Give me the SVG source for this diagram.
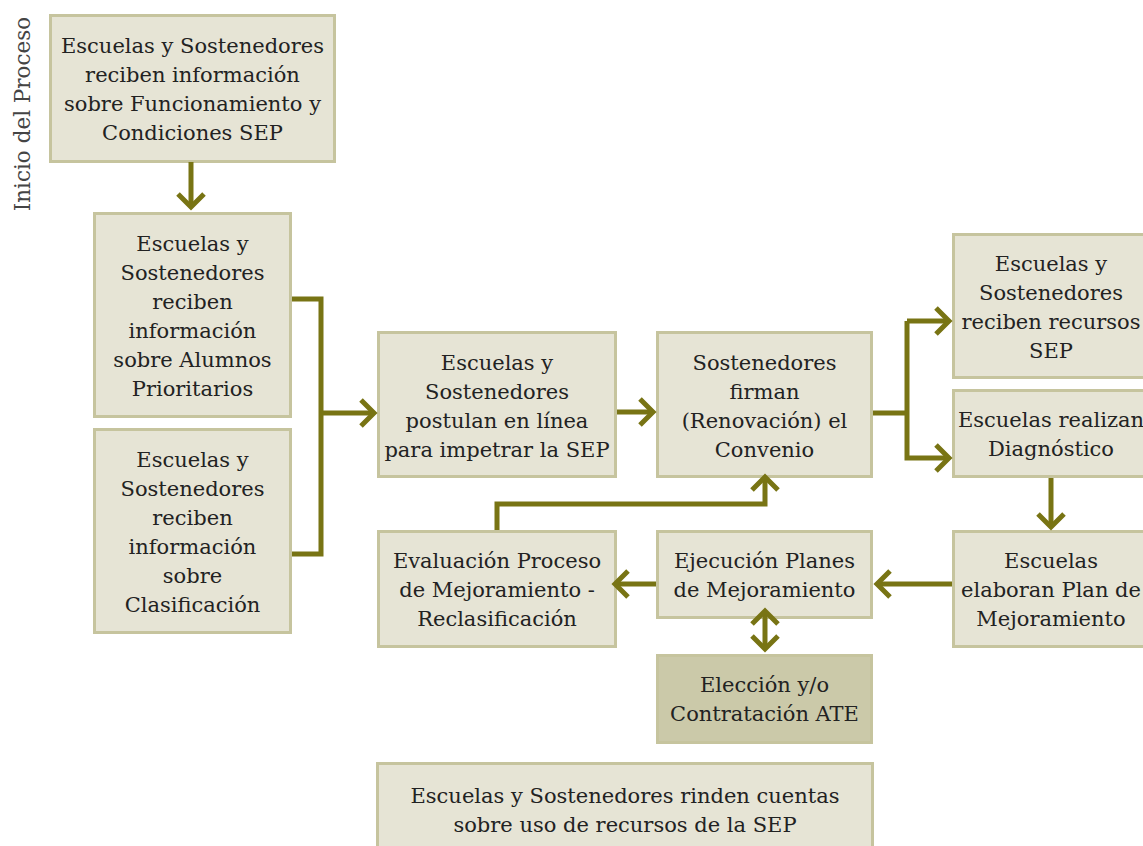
<svg xmlns="http://www.w3.org/2000/svg" width="1143" height="846" viewBox="0 0 1143 846">
<style>
.box{fill:#e6e4d5;stroke:#c6c49e;stroke-width:3}
.dark{fill:#cbc9a9}
.t{font-family:"DejaVu Serif","Liberation Serif",serif;font-size:21px;fill:#222;text-anchor:middle}
.side{font-family:"DejaVu Serif","Liberation Serif",serif;font-size:21.5px;fill:#444;text-anchor:middle}
.c{fill:none;stroke:#787414;stroke-width:5}
.a{marker-end:url(#ah)}
</style>
<defs>
<marker id="ah" markerUnits="userSpaceOnUse" viewBox="-20 -20 26 40" markerWidth="26" markerHeight="40" refX="0" refY="0" orient="auto-start-reverse">
<path d="M-13,-13 L0,0 L-13,13" fill="none" stroke="#787414" stroke-width="5"/>
</marker>
</defs>
<rect width="1143" height="846" fill="#fff"/>
<text class="side" transform="translate(30,114) rotate(-90)">Inicio del Proceso</text>

<g id="n1"><rect class="box" x="50.5" y="15.5" width="284" height="146"/>
<text class="t" x="192.5" y="53">Escuelas y Sostenedores<tspan x="192.5" dy="29">reciben información</tspan><tspan x="192.5" dy="29">sobre Funcionamiento y</tspan><tspan x="192.5" dy="29">Condiciones SEP</tspan></text></g>

<g id="n2"><rect class="box" x="94.5" y="213.5" width="196" height="203"/>
<text class="t" x="192.5" y="251">Escuelas y<tspan x="192.5" dy="29">Sostenedores</tspan><tspan x="192.5" dy="29">reciben</tspan><tspan x="192.5" dy="29">información</tspan><tspan x="192.5" dy="29">sobre Alumnos</tspan><tspan x="192.5" dy="29">Prioritarios</tspan></text></g>

<g id="n3"><rect class="box" x="94.5" y="429.5" width="196" height="203"/>
<text class="t" x="192.5" y="467">Escuelas y<tspan x="192.5" dy="29">Sostenedores</tspan><tspan x="192.5" dy="29">reciben</tspan><tspan x="192.5" dy="29">información</tspan><tspan x="192.5" dy="29">sobre</tspan><tspan x="192.5" dy="29">Clasificación</tspan></text></g>

<g id="n4"><rect class="box" x="378.5" y="332.5" width="237" height="144"/>
<text class="t" x="497" y="370">Escuelas y<tspan x="497" dy="29">Sostenedores</tspan><tspan x="497" dy="29">postulan en línea</tspan><tspan x="497" dy="29">para impetrar la SEP</tspan></text></g>

<g id="n5"><rect class="box" x="657.5" y="332.5" width="214" height="144"/>
<text class="t" x="764.5" y="370">Sostenedores<tspan x="764.5" dy="29">firman</tspan><tspan x="764.5" dy="29">(Renovación) el</tspan><tspan x="764.5" dy="29">Convenio</tspan></text></g>

<g id="n6"><rect class="box" x="953.5" y="234.5" width="200" height="143"/>
<text class="t" x="1051" y="271">Escuelas y<tspan x="1051" dy="29">Sostenedores</tspan><tspan x="1051" dy="29">reciben recursos</tspan><tspan x="1051" dy="29">SEP</tspan></text></g>

<g id="n7"><rect class="box" x="953.5" y="390.5" width="200" height="86"/>
<text class="t" x="1051" y="427">Escuelas realizan<tspan x="1051" dy="29">Diagnóstico</tspan></text></g>

<g id="n8"><rect class="box" x="953.5" y="531.5" width="200" height="115"/>
<text class="t" x="1051" y="568">Escuelas<tspan x="1051" dy="29">elaboran Plan de</tspan><tspan x="1051" dy="29">Mejoramiento</tspan></text></g>

<g id="n9"><rect class="box" x="657.5" y="531.5" width="214" height="86"/>
<text class="t" x="764.5" y="568">Ejecución Planes<tspan x="764.5" dy="29">de Mejoramiento</tspan></text></g>

<g id="n10"><rect class="box" x="378.5" y="531.5" width="237" height="115"/>
<text class="t" x="497" y="568">Evaluación Proceso<tspan x="497" dy="29">de Mejoramiento -</tspan><tspan x="497" dy="29">Reclasificación</tspan></text></g>

<g id="n11"><rect class="box dark" x="657.5" y="655.5" width="214" height="87"/>
<text class="t" x="764.5" y="692">Elección y/o<tspan x="764.5" dy="29">Contratación ATE</tspan></text></g>

<g id="n12"><rect class="box" x="377.5" y="763.5" width="495" height="100"/>
<text class="t" x="625" y="803">Escuelas y Sostenedores rinden cuentas<tspan x="625" dy="29">sobre uso de recursos de la SEP</tspan></text></g>

<g id="connectors">
<path class="c a" d="M191,162 V207"/>
<path class="c" d="M292,299 H321 V554 H292"/>
<path class="c a" d="M321,413 H374"/>
<path class="c a" d="M617,412 H653"/>
<path class="c" d="M873,413 H907"/>
<path class="c a" d="M907,321 V458 H949"/>
<path class="c a" d="M907,321 H949"/>
<path class="c a" d="M1051,478 V527"/>
<path class="c a" d="M952,584 H877"/>
<path class="c a" d="M656,584 H615"/>
<path class="c a" d="M497,530 V504 H765 V477"/>
<path class="c a" d="M765,611 V649" marker-start="url(#ah)"/>
</g>
</svg>
